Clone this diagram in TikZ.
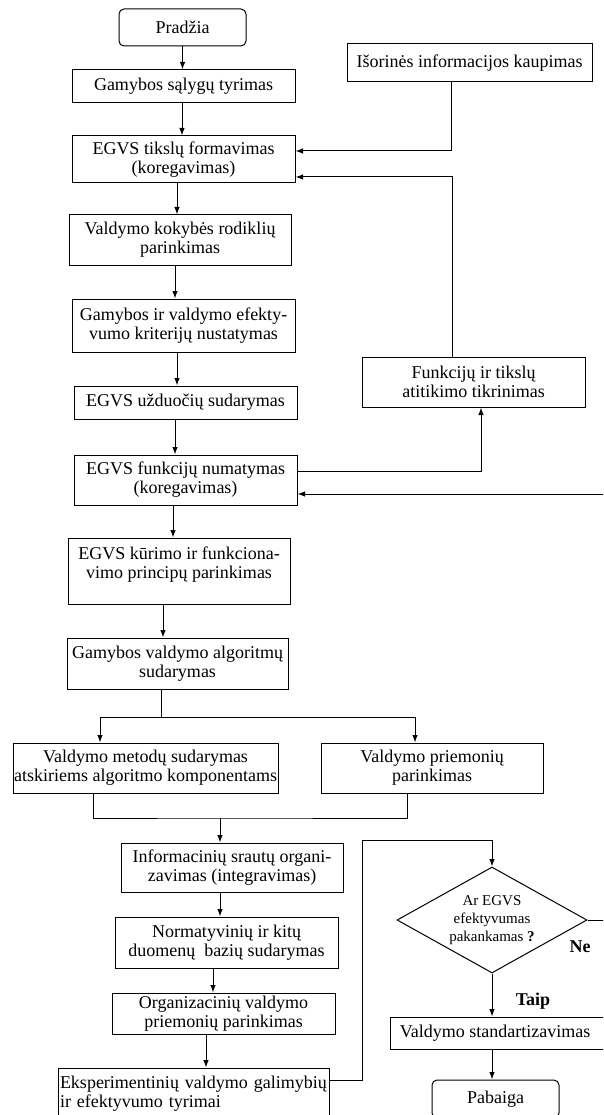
\documentclass[tikz,border=0pt]{standalone}
\usepackage{fontspec}
\setmainfont{Liberation Serif}
\usetikzlibrary{arrows.meta,shapes.geometric}
\tikzset{
  box/.style={draw, line width=1pt, inner sep=0pt, align=center, font=\fontsize{18}{19}\selectfont},
  term/.style={box, rounded corners=5pt},
  arr/.style={line width=1pt, -{Latex[length=7.5pt,width=5.5pt]}},
  ln/.style={line width=1pt},
  lbl/.style={font=\fontsize{18}{19}\selectfont\bfseries, inner sep=0pt},
  dia/.style={draw, line width=1pt, diamond, inner sep=0pt, align=center, aspect=1.79,
    minimum width=190pt, minimum height=106pt, font=\fontsize{15}{18}\selectfont},
}
\newcommand\vlink[3]{\draw[arr] ([xshift=#1]#2.south) coordinate (tmp) -- (tmp |- #3.north);}
\begin{document}
\begin{tikzpicture}[x=1pt,y=1pt]
\useasboundingbox (0,0) rectangle (603,-1115);
\clip (0,0) rectangle (603,-1115);

\node[term, minimum width=127pt, minimum height=37pt] (start) at (182.5,-27.5) {Pradžia};
\node[box, minimum width=223pt, minimum height=33pt] (g1) at (183.5,-86.5) {Gamybos sąlygų tyrimas};
\node[box, minimum width=223pt, minimum height=47pt] (g2) at (183.5,-159.5) {EGVS tikslų formavimas\\(koregavimas)};
\node[box, minimum width=245pt, minimum height=38pt] (ext) at (469.5,-63) {Išorinės informacijos kaupimas};
\node[box, minimum width=222pt, minimum height=50pt] (g3) at (180,-240) {Valdymo kokybės rodiklių\\parinkimas};
\node[box, minimum width=223pt, minimum height=53pt] (g4) at (183.5,-325.5) {Gamybos ir valdymo efekty-\\vumo kriterijų nustatymas};
\node[box, minimum width=223pt, minimum height=33pt] (g5) at (185.5,-402.5) {EGVS užduočių sudarymas};
\node[box, minimum width=223pt, minimum height=50pt] (chk) at (473.5,-382) {Funkcijų ir tikslų\\atitikimo tikrinimas};
\node[box, minimum width=223pt, minimum height=50pt] (g6) at (185.5,-480) {EGVS funkcijų numatymas\\(koregavimas)};
\node[box, minimum width=222pt, minimum height=66pt, text depth=16pt] (g7) at (179,-571) {EGVS kūrimo ir funkciona-\\vimo principų parinkimas};
\node[box, minimum width=221pt, minimum height=51pt] (g8) at (177.5,-663.5) {Gamybos valdymo algoritmų\\sudarymas};
\node[box, minimum width=265pt, minimum height=50pt] (m1) at (145.5,-768) {Valdymo metodų sudarymas\\atskiriems algoritmo komponentams};
\node[box, minimum width=222pt, minimum height=50pt] (m2) at (432,-768) {Valdymo priemonių\\parinkimas};
\node[box, minimum width=222pt, minimum height=49pt] (g9) at (232,-867.5) {Informacinių srautų organi-\\zavimas (integravimas)};
\node[box, minimum width=223pt, minimum height=51pt] (g10) at (226.5,-942.5) {Normatyvinių ir kitų\\duomenų\ \ bazių sudarymas};
\node[box, minimum width=223pt, minimum height=41pt] (g11) at (223.5,-1013.5) {Organizacinių valdymo\\priemonių parinkimas};
\node[box, minimum height=52pt, text width=267pt, inner xsep=2pt, align=left] (g12) at (193.5,-1094) {Eksperimentinių valdymo galimybių\\ir efektyvumo tyrimai};
\node[dia] (dec) at (492,-920) {Ar EGVS\\efektyvumas\\pakankamas \textbf{?}};
\node[box, minimum width=224pt, minimum height=32pt] (std) at (502,-1033) {\hspace*{-14pt}Valdymo standartizavimas};
\node[term, minimum width=127pt, minimum height=38pt] (end) at (495.5,-1099) {Pabaiga};

\coordinate (split) at (161,-717);
\coordinate (join) at (220,-818);
\coordinate (loopc) at (362,-840);
\coordinate (neR) at (610,-920);
\coordinate (fbR) at (610,-494);

\vlink{0pt}{start}{g1}
\vlink{-1.5pt}{g1}{g2}
\vlink{-6.5pt}{g2}{g3}
\vlink{-5pt}{g3}{g4}
\vlink{-6.5pt}{g4}{g5}
\vlink{-10.5pt}{g5}{g6}
\vlink{-12.5pt}{g6}{g7}
\vlink{-16pt}{g7}{g8}
\draw[ln] ([xshift=-16.5pt]g8.south) -- (split);
\draw[arr] (split) -| ([xshift=-45.5pt]m1.north);
\draw[arr] (split) -| ([xshift=-17pt]m2.north);
\draw[ln] ([xshift=-52.5pt]m1.south) |- (join) -| ([xshift=-25pt]m2.south);
\draw[arr] (join) -- (join |- g9.north);
\vlink{-12pt}{g9}{g10}
\vlink{-13.5pt}{g10}{g11}
\vlink{-17.5pt}{g11}{g12}

\draw[arr] ([xshift=-18.5pt]ext.south) |- ([yshift=8.5pt]g2.east);
\draw[arr] ([xshift=-21.5pt]chk.north) |- ([yshift=-17.5pt]g2.east);
\draw[arr] ([yshift=9pt]g6.east) -| ([xshift=7.5pt]chk.south);
\draw[arr] (fbR) -- (fbR -| g6.east);

\draw[arr] ([yshift=14pt]g12.east) -| (loopc) -| (dec.north);
\draw[arr] (dec.south) -- (dec.south |- std.north);
\draw[arr] (std.south -| dec.south) -- (dec.south |- end.north);
\draw[ln] (dec.east) -- (neR);

\node[lbl] (ne) at (580,-947) {Ne};
\node[lbl] (taip) at (533,-1001) {Taip};
\end{tikzpicture}
\end{document}
